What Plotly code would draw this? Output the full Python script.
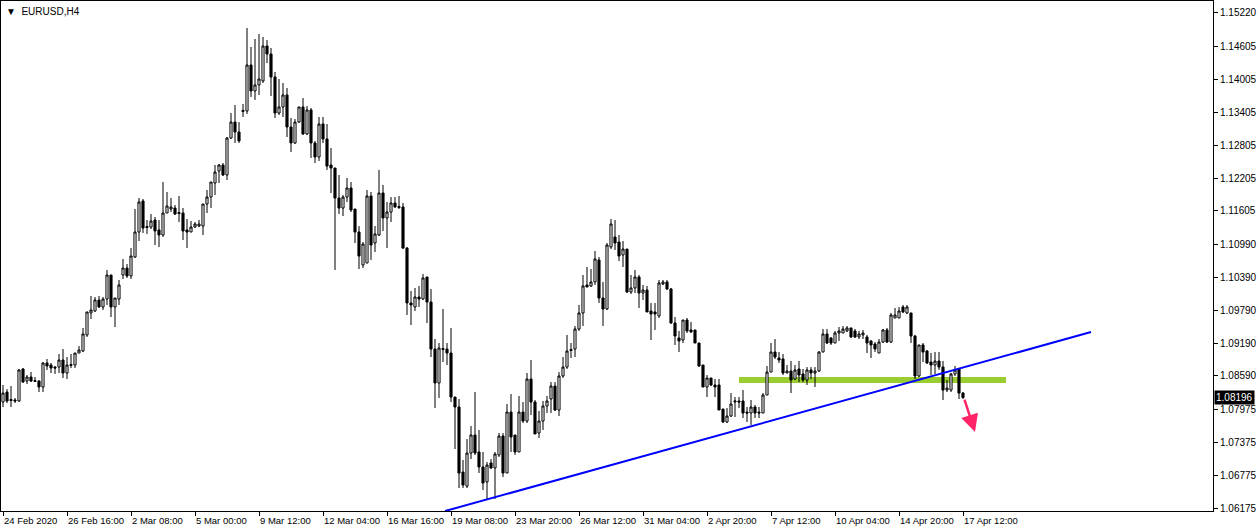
import plotly.graph_objects as go

# ---------------- data (EURUSD H4) ----------------
opens = [
    1.08113, 1.08295, 1.08159, 1.08150, 1.08132, 1.08716, 1.08497, 1.08570, 1.08506, 1.08497,
    1.08387, 1.08826, 1.08789, 1.08752, 1.08752, 1.08880, 1.08643, 1.08780, 1.08789, 1.09008,
    1.09045, 1.09338, 1.09740, 1.09776, 1.09977, 1.09849, 1.09995, 1.10433, 1.09849, 1.09995,
    1.10433, 1.10561, 1.10415, 1.10762, 1.11219, 1.11785, 1.11319, 1.11310, 1.11438, 1.11256,
    1.11164, 1.11566, 1.11639, 1.11657, 1.11575, 1.11566, 1.11256, 1.11219, 1.11310, 1.11328,
    1.11328, 1.11730, 1.11858, 1.12114, 1.12333, 1.12443, 1.12260, 1.12936, 1.13228, 1.13046,
    1.13421, 1.13430, 1.14270, 1.13795, 1.13905, 1.13978, 1.14617, 1.14471, 1.14051, 1.13393,
    1.13503, 1.13722, 1.13137, 1.12845, 1.13228, 1.13503, 1.13009, 1.13448, 1.12845, 1.12589,
    1.13192, 1.12918, 1.12443, 1.12388, 1.11840, 1.11657, 1.11858, 1.12023, 1.11639, 1.11219,
    1.10616, 1.10652, 1.11877, 1.11018, 1.11164, 1.11932, 1.11475, 1.11584, 1.11749, 1.11685,
    1.11676, 1.10926, 1.09922, 1.09849, 1.10032, 1.09995, 1.10397, 1.09940, 1.09081, 1.08460,
    1.09072, 1.09081, 1.09008, 1.08204, 1.08022, 1.06834, 1.06578, 1.07181, 1.07510, 1.07200,
    1.06926, 1.06652, 1.06999, 1.06908, 1.07145, 1.07492, 1.06816, 1.07930, 1.07510, 1.07200,
    1.07930, 1.07766, 1.08533, 1.08113, 1.07547, 1.07766, 1.08040, 1.08168, 1.08405, 1.07967,
    1.08588, 1.08752, 1.09072, 1.09081, 1.09447, 1.09740, 1.10251, 1.10233, 1.10306, 1.10707,
    1.10013, 1.09812, 1.10945, 1.11128, 1.11036, 1.10799, 1.10908, 1.10123, 1.10196, 1.10397,
    1.10105, 1.10159, 1.09776, 1.09758, 1.09685, 1.10269, 1.10306, 1.10178, 1.09557, 1.09283,
    1.09246, 1.09611, 1.09429, 1.09429, 1.09191, 1.08789, 1.08387, 1.08552, 1.08424, 1.08424,
    1.07985, 1.07748, 1.07857, 1.08113, 1.08132, 1.08132, 1.07930, 1.07912, 1.08022, 1.07930,
    1.07912, 1.08241, 1.08661, 1.09026, 1.08917, 1.08899, 1.08643, 1.08679, 1.08533, 1.08716,
    1.08625, 1.08515, 1.08698, 1.08643, 1.08679, 1.09026, 1.09356, 1.09283, 1.09191, 1.09374,
    1.09374, 1.09411, 1.09466, 1.09411, 1.09301, 1.09338, 1.09301, 1.09228, 1.09173, 1.09008,
    1.09209, 1.09429, 1.09209, 1.09648, 1.09648, 1.09849, 1.09740, 1.09740, 1.09319, 1.08588,
    1.09155, 1.09045, 1.08844, 1.08789, 1.08862, 1.08752, 1.08332, 1.08332, 1.08625, 1.08716,
    1.08277,
]
highs = [
    1.08424, 1.08350, 1.08405, 1.08186, 1.08716, 1.08734, 1.08606, 1.08661, 1.08570, 1.08515,
    1.08844, 1.08899, 1.08826, 1.08771, 1.08990, 1.09081, 1.08935, 1.08990, 1.09008, 1.09136,
    1.09466, 1.09758, 1.10050, 1.10032, 1.10050, 1.10032, 1.10525, 1.10433, 1.10013, 1.10342,
    1.10726, 1.10634, 1.10926, 1.11639, 1.11840, 1.11822, 1.11438, 1.11548, 1.11493, 1.11438,
    1.12132, 1.11950, 1.11840, 1.11712, 1.11877, 1.11657, 1.11456, 1.11420, 1.11401, 1.11438,
    1.11730, 1.11986, 1.12132, 1.12443, 1.12461, 1.12479, 1.12954, 1.13393, 1.13539, 1.13228,
    1.13558, 1.14946, 1.14599, 1.14745, 1.14836, 1.14782, 1.14727, 1.14581, 1.14142, 1.14014,
    1.13941, 1.13850, 1.13302, 1.13283, 1.13503, 1.13667, 1.13521, 1.13485, 1.12882, 1.13320,
    1.13320, 1.13192, 1.12753, 1.12388, 1.12260, 1.11895, 1.12205, 1.12132, 1.11639, 1.11328,
    1.11036, 1.11986, 1.11950, 1.11328, 1.12352, 1.12078, 1.11767, 1.11858, 1.11858, 1.11877,
    1.11749, 1.10945, 1.10141, 1.10196, 1.10233, 1.10452, 1.10397, 1.10177, 1.09264, 1.09191,
    1.09812, 1.09191, 1.09466, 1.08204, 1.08168, 1.07054, 1.07437, 1.07675, 1.08296, 1.07602,
    1.07200, 1.07017, 1.07072, 1.07200, 1.07547, 1.07547, 1.08077, 1.08259, 1.07510, 1.08223,
    1.08113, 1.08643, 1.08880, 1.08150, 1.07949, 1.08132, 1.08223, 1.08478, 1.08478, 1.08661,
    1.08935, 1.09338, 1.09191, 1.09502, 1.09886, 1.10433, 1.10580, 1.10543, 1.10872, 1.10762,
    1.10306, 1.11018, 1.11456, 1.11438, 1.11164, 1.11054, 1.10908, 1.10433, 1.10525, 1.10433,
    1.10251, 1.10233, 1.09922, 1.09922, 1.10342, 1.10342, 1.10342, 1.10196, 1.09666, 1.09411,
    1.09611, 1.09648, 1.09575, 1.09429, 1.09191, 1.08789, 1.08606, 1.08552, 1.08533, 1.08533,
    1.07985, 1.08003, 1.08277, 1.08204, 1.08204, 1.08332, 1.08022, 1.08150, 1.08058, 1.08022,
    1.08277, 1.08771, 1.09191, 1.09264, 1.09026, 1.08990, 1.08789, 1.08862, 1.08789, 1.08862,
    1.08716, 1.08752, 1.08752, 1.08752, 1.09045, 1.09447, 1.09447, 1.09301, 1.09411, 1.09484,
    1.09502, 1.09502, 1.09466, 1.09447, 1.09411, 1.09429, 1.09338, 1.09246, 1.09209, 1.09264,
    1.09447, 1.09466, 1.09740, 1.09831, 1.09849, 1.09886, 1.09886, 1.09740, 1.09338, 1.09155,
    1.09191, 1.09063, 1.09008, 1.09026, 1.09026, 1.08862, 1.08515, 1.08643, 1.08771, 1.08716,
    1.08295,
]
lows = [
    1.08022, 1.08095, 1.08022, 1.08095, 1.08113, 1.08460, 1.08442, 1.08478, 1.08478, 1.08295,
    1.08295, 1.08698, 1.08643, 1.08625, 1.08643, 1.08552, 1.08533, 1.08734, 1.08734, 1.09008,
    1.09026, 1.09301, 1.09630, 1.09758, 1.09831, 1.09794, 1.09886, 1.09666, 1.09483, 1.09886,
    1.10360, 1.10379, 1.10360, 1.10744, 1.11054, 1.11201, 1.11183, 1.11274, 1.10981, 1.10944,
    1.11128, 1.11566, 1.11584, 1.11529, 1.11401, 1.11073, 1.10926, 1.11219, 1.11292, 1.11310,
    1.11164, 1.11566, 1.11657, 1.11895, 1.12114, 1.12242, 1.12169, 1.12918, 1.12845, 1.12845,
    1.13320, 1.13375, 1.13686, 1.13631, 1.13722, 1.13941, 1.14306, 1.13704, 1.13302, 1.13356,
    1.13320, 1.12954, 1.12680, 1.12827, 1.13210, 1.12991, 1.12991, 1.12571, 1.12479, 1.12516,
    1.12845, 1.12352, 1.11932, 1.10525, 1.11548, 1.11511, 1.11767, 1.11584, 1.11018, 1.10543,
    1.10561, 1.10652, 1.10707, 1.10853, 1.11146, 1.11237, 1.10926, 1.11401, 1.11657, 1.11639,
    1.10908, 1.09703, 1.09520, 1.09776, 1.09849, 1.09977, 1.09557, 1.08935, 1.08003, 1.08186,
    1.08844, 1.08789, 1.08113, 1.07254, 1.06542, 1.06542, 1.06542, 1.07072, 1.07145, 1.06816,
    1.06505, 1.06341, 1.06889, 1.06341, 1.07108, 1.06743, 1.06816, 1.07200, 1.07145, 1.07200,
    1.07729, 1.07729, 1.07876, 1.07529, 1.07455, 1.07602, 1.07912, 1.07912, 1.07949, 1.07857,
    1.08552, 1.08716, 1.08917, 1.08935, 1.09411, 1.09502, 1.10214, 1.10214, 1.10251, 1.09922,
    1.09502, 1.09794, 1.10908, 1.10890, 1.10689, 1.10580, 1.10105, 1.10086, 1.10105, 1.09831,
    1.09977, 1.09758, 1.09246, 1.09429, 1.09648, 1.10251, 1.10159, 1.09538, 1.09155, 1.09026,
    1.09191, 1.09374, 1.09374, 1.09191, 1.08752, 1.08387, 1.08204, 1.08405, 1.08204, 1.07967,
    1.07729, 1.07729, 1.07839, 1.07839, 1.08003, 1.07821, 1.07748, 1.07693, 1.07821, 1.07821,
    1.07912, 1.08241, 1.08661, 1.08899, 1.08826, 1.08606, 1.08643, 1.08277, 1.08515, 1.08478,
    1.08478, 1.08424, 1.08533, 1.08387, 1.08661, 1.09026, 1.09173, 1.09155, 1.09191, 1.09228,
    1.09374, 1.09393, 1.09283, 1.09283, 1.09264, 1.09264, 1.09008, 1.08917, 1.09026, 1.09008,
    1.09191, 1.09191, 1.09191, 1.09648, 1.09648, 1.09740, 1.09721, 1.09191, 1.08533, 1.08570,
    1.08844, 1.08807, 1.08606, 1.08625, 1.08698, 1.08150, 1.08295, 1.08295, 1.08588, 1.08168,
    1.08168,
]
closes = [
    1.08277, 1.08132, 1.08141, 1.08132, 1.08698, 1.08478, 1.08570, 1.08497, 1.08488, 1.08387,
    1.08826, 1.08771, 1.08734, 1.08734, 1.08880, 1.08643, 1.08789, 1.08798, 1.09008, 1.09063,
    1.09356, 1.09758, 1.09794, 1.09977, 1.09849, 1.09995, 1.10433, 1.09849, 1.10013, 1.10251,
    1.10561, 1.10415, 1.10780, 1.11219, 1.11767, 1.11292, 1.11301, 1.11420, 1.11237, 1.11164,
    1.11566, 1.11694, 1.11676, 1.11548, 1.11557, 1.11237, 1.11219, 1.11310, 1.11365, 1.11365,
    1.11730, 1.11858, 1.12132, 1.12315, 1.12443, 1.12260, 1.12936, 1.13228, 1.13046, 1.12882,
    1.13439, 1.14270, 1.13795, 1.13905, 1.14014, 1.14617, 1.14471, 1.14051, 1.13393, 1.13503,
    1.13722, 1.13137, 1.12845, 1.13228, 1.13503, 1.13009, 1.13448, 1.12845, 1.12589, 1.13192,
    1.12918, 1.12424, 1.12388, 1.11840, 1.11657, 1.11858, 1.12023, 1.11621, 1.11219, 1.10780,
    1.10999, 1.11877, 1.10981, 1.11183, 1.11932, 1.11475, 1.11584, 1.11749, 1.11676, 1.11666,
    1.10926, 1.09922, 1.09886, 1.10032, 1.09995, 1.10379, 1.09940, 1.09081, 1.08460, 1.09099,
    1.09090, 1.09008, 1.08204, 1.08022, 1.06816, 1.06597, 1.07181, 1.07510, 1.07181, 1.06926,
    1.06633, 1.06962, 1.06908, 1.07163, 1.07492, 1.06816, 1.07930, 1.07474, 1.07200, 1.07930,
    1.07766, 1.08533, 1.08113, 1.07529, 1.07766, 1.08040, 1.08132, 1.08405, 1.07967, 1.08588,
    1.08752, 1.09045, 1.09054, 1.09447, 1.09740, 1.10233, 1.10214, 1.10306, 1.10726, 1.10013,
    1.09812, 1.10981, 1.11365, 1.11018, 1.10780, 1.10908, 1.10123, 1.10196, 1.10397, 1.10105,
    1.10159, 1.09758, 1.09721, 1.09721, 1.10288, 1.10306, 1.10178, 1.09557, 1.09319, 1.09228,
    1.09611, 1.09411, 1.09393, 1.09191, 1.08771, 1.08387, 1.08552, 1.08424, 1.08387, 1.07967,
    1.07748, 1.07857, 1.08077, 1.08132, 1.08113, 1.07912, 1.07912, 1.08022, 1.07912, 1.07912,
    1.08241, 1.08661, 1.09026, 1.08935, 1.08880, 1.08643, 1.08679, 1.08515, 1.08698, 1.08606,
    1.08515, 1.08698, 1.08643, 1.08679, 1.09026, 1.09356, 1.09191, 1.09191, 1.09374, 1.09411,
    1.09447, 1.09466, 1.09301, 1.09301, 1.09356, 1.09374, 1.09191, 1.09155, 1.09081, 1.09209,
    1.09429, 1.09209, 1.09703, 1.09703, 1.09776, 1.09758, 1.09849, 1.09319, 1.08588, 1.09155,
    1.09026, 1.08826, 1.08789, 1.08862, 1.08752, 1.08332, 1.08369, 1.08625, 1.08698, 1.08277,
    1.08196,
]
bar_index = list(range(len(closes)))

time_tick_bars = [0, 16, 32, 48, 64, 80, 96, 112, 128, 144, 160, 176, 192, 208, 224, 240]
time_tick_labels = ["24 Feb 2020", "26 Feb 16:00", "2 Mar 08:00", "5 Mar 00:00", "9 Mar 12:00",
                    "12 Mar 04:00", "16 Mar 16:00", "19 Mar 08:00", "23 Mar 20:00", "26 Mar 12:00",
                    "31 Mar 04:00", "2 Apr 20:00", "7 Apr 12:00", "10 Apr 04:00", "14 Apr 20:00",
                    "17 Apr 12:00"]
price_ticks = [1.15220, 1.14605, 1.14005, 1.13405, 1.12805, 1.12205, 1.11605, 1.10990,
               1.10390, 1.09790, 1.09190, 1.08590, 1.07975, 1.07375, 1.06775, 1.06175]
price_tick_labels = ["%.5f" % v for v in price_ticks]
last_price = 1.08196

trend_x = [110.5, 272.0]          # blue support trendline (bar positions)
trend_y = [1.06121, 1.09391]
zone_x = [184.0, 250.75]          # green horizontal level
zone_y = [1.08460, 1.08570]
arrow_from = (240.25, 1.08186)    # pink arrow
arrow_to = (243.0, 1.07565)

FONT = "Liberation Sans"

fig = go.Figure()
fig.add_trace(go.Candlestick(
    x=bar_index, open=opens, high=highs, low=lows, close=closes,
    increasing=dict(fillcolor="white", line=dict(color="black", width=1)),
    decreasing=dict(fillcolor="black", line=dict(color="black", width=1)),
    whiskerwidth=0, showlegend=False, hoverinfo="skip",
))

# green level
fig.add_shape(type="rect", xref="x", yref="y", x0=zone_x[0], x1=zone_x[1],
              y0=zone_y[0], y1=zone_y[1], fillcolor="#9acd32", line=dict(width=0),
              layer="below")
# blue trendline
fig.add_shape(type="line", xref="x", yref="y", x0=trend_x[0], y0=trend_y[0],
              x1=trend_x[1], y1=trend_y[1], line=dict(color="#0000ff", width=2))

# arrow
fig.add_annotation(x=arrow_to[0], y=arrow_to[1], ax=arrow_from[0], ay=arrow_from[1],
                   xref="x", yref="y", axref="x", ayref="y", text="", showarrow=True,
                   arrowhead=2, arrowsize=1.4, arrowwidth=2.5, arrowcolor="#ff2468")

# time labels (left aligned next to tick)
for b, lab in zip(time_tick_bars, time_tick_labels):
    fig.add_annotation(x=b, y=0, xref="x", yref="paper", text=lab, showarrow=False,
                       xanchor="left", yanchor="top", xshift=-1, yshift=-2,
                       font=dict(family=FONT, size=9.5, color="black"))

# last price box
fig.add_annotation(x=1, y=last_price, xref="paper", yref="y", text="%.5f" % last_price,
                   showarrow=False, xanchor="left", yanchor="middle", xshift=1,
                   bgcolor="black", font=dict(family=FONT, size=10, color="white"),
                   borderpad=1)

# title
fig.add_annotation(x=0, y=1, xref="paper", yref="paper", text="▼  EURUSD,H4",
                   showarrow=False, xanchor="left", yanchor="top", xshift=3, yshift=-3,
                   font=dict(family=FONT, size=10, color="black"))

fig.update_layout(
    width=1259, height=532,
    margin=dict(l=1, r=46, t=1, b=21),
    paper_bgcolor="white", plot_bgcolor="white",
    boxgap=0.25,
    xaxis=dict(range=[-0.5, 302.5], showgrid=False, zeroline=False,
               showline=True, mirror=True, linecolor="black", linewidth=1,
               tickvals=time_tick_bars, showticklabels=False,
               ticks="outside", ticklen=4, tickcolor="black",
               rangeslider=dict(visible=False), fixedrange=True),
    yaxis=dict(range=[1.06122, 1.15439], side="right", showgrid=False, zeroline=False,
               showline=True, mirror=True, linecolor="black", linewidth=1,
               tickvals=price_ticks, ticktext=price_tick_labels,
               ticks="outside", ticklen=4, tickcolor="black",
               tickfont=dict(family=FONT, size=10, color="black"), fixedrange=True),
    showlegend=False,
)

fig.write_html("out.html", config={"displayModeBar": False},
               post_script="document.body.style.margin='0';document.body.style.overflow='hidden';")
